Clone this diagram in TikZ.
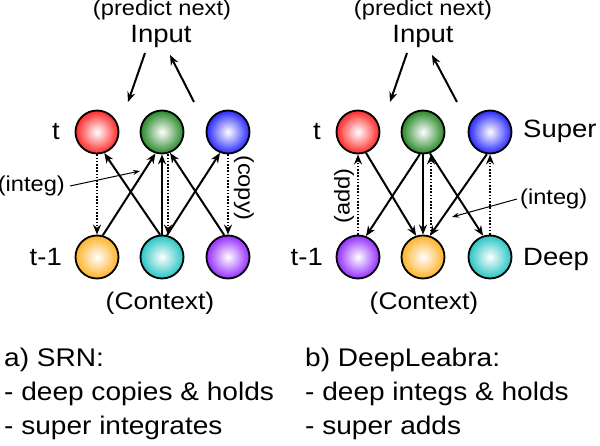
\documentclass[tikz,border=0pt]{standalone}
\usepackage{fontspec}
\setmainfont{Liberation Sans}[FakeStretch=1.1]
\usetikzlibrary{arrows.meta}
\newcommand{\ballsize}{43pt}
\definecolor{ballred}{RGB}{255,40,40}
\definecolor{ballgreen}{RGB}{40,135,40}
\definecolor{ballblue}{RGB}{40,40,255}
\definecolor{ballorange}{RGB}{255,178,40}
\definecolor{ballcyan}{RGB}{40,196,196}
\definecolor{ballpurple}{RGB}{148,45,255}

\begin{document}
\begin{tikzpicture}[x=1pt,y=1pt,
    unit/.style={draw, circle, line width=1.8pt, minimum size=\ballsize, inner sep=0pt,
      inner color=white, outer color=#1},
    wire/.style={line width=2pt, -{Stealth[length=10pt,width=8pt]}},
    copyline/.style={line width=1.9pt, dash pattern=on 1.6pt off 1.6pt,
      -{Stealth[length=10pt,width=8pt]}},
    pointer/.style={line width=1pt, -{Stealth[length=7pt,width=5pt]}},
    smalllbl/.style={font=\fontsize{21.5}{25}\selectfont, inner sep=0pt},
    biglbl/.style={font=\fontsize{25}{30}\selectfont, inner sep=0pt},
    capt/.style={font=\fontsize{25.5}{34}\selectfont, inner sep=0pt, align=left}]

      \useasboundingbox (0,0) rectangle (600,445);

          %%  a) SRN  %%
      \foreach \n/\x/\c in {R/97/ballred, G/162/ballgreen, B/228/ballblue}
      { \node (a\n) at (\x,313) [unit=\c] {};}
      \foreach \n/\x/\c in {Y/97/ballorange, C/162/ballcyan, P/228/ballpurple}
      { \node (a\n) at (\x,188) [unit=\c] {};}

      \node (aPred) at (162,429) [smalllbl, anchor=base] {(predict next)};
      \node (aIn) at (161,402) [biglbl, anchor=base] {Input};
      \coordinate (aDn1) at (145,392); \coordinate (aDn2) at (128,343);
      \coordinate (aUp1) at (194,343); \coordinate (aUp2) at (170,390);
      \draw[wire] (aDn1) -- (aDn2);
      \draw[wire] (aUp1) -- (aUp2);

      \draw[wire] (aY.75) -- (aG.253);
      \draw[wire] (aC.95) -- (aR.289);
      \draw[wire] (aC.90) -- (aG.270);
      \draw[wire] (aC.77) -- (aB.249);
      \draw[wire] (aP.100) -- (aG.291);
      \draw[copyline] (aR.270) -- (aY.90);
      \draw[copyline] ([xshift=6pt]aG.south) -- ([xshift=6pt]aC.north);
      \draw[copyline] (aB.270) -- (aP.90);

      \node (aT) at (60,313) [biglbl, anchor=east] {t};
      \node (aT1) at (62,188) [biglbl, anchor=east] {t-1};
      \node (aCopy) at (244,257) [smalllbl, rotate=-90] {(copy)};
      \node (aInteg) at (65,259) [smalllbl, anchor=east] {(integ)};
      \coordinate (aIntegTo) at (140,274);
      \draw[pointer] ([xshift=5pt]aInteg.east) -- (aIntegTo);
      \node (aCtx) at (160,135.5) [biglbl, font=\fontsize{24}{28}\selectfont, anchor=base] {(Context)};

          %%  b) DeepLeabra  %%
      \foreach \n/\x/\c in {R/358/ballred, G/423/ballgreen, B/490/ballblue}
      { \node (b\n) at (\x,313) [unit=\c] {};}
      \foreach \n/\x/\c in {P/358/ballpurple, Y/423/ballorange, C/490/ballcyan}
      { \node (b\n) at (\x,188) [unit=\c] {};}

      \node (bPred) at (423,429) [smalllbl, anchor=base] {(predict next)};
      \node (bIn) at (423,402) [biglbl, anchor=base] {Input};
      \coordinate (bDn1) at (407,392); \coordinate (bDn2) at (390,343);
      \coordinate (bUp1) at (457,343); \coordinate (bUp2) at (432,390);
      \draw[wire] (bDn1) -- (bDn2);
      \draw[wire] (bUp1) -- (bUp2);

      \draw[wire] (bR.291) -- (bY.108);
      \draw[wire] (bG.262) -- (bP.69);
      \draw[wire] (bG.270) -- (bY.90);
      \draw[wire] (bG.288) -- (bC.108);
      \draw[wire] (bB.262) -- (bY.72);
      \draw[copyline] (bP.90) -- (bR.270);
      \draw[copyline] ([xshift=8pt]bY.north) -- ([xshift=8pt]bG.south);
      \draw[copyline] (bC.90) -- (bB.270);

      \node (bT) at (321,313) [biglbl, anchor=east] {t};
      \node (bT1) at (323,188) [biglbl, anchor=east] {t-1};
      \node (bSuper) at (523,307) [biglbl, anchor=base west] {Super};
      \node (bDeep) at (523,179) [biglbl, anchor=base west] {Deep};
      \node (bAdd) at (344,249) [smalllbl, rotate=90] {(add)};
      \node (bInteg) at (520,246) [smalllbl, anchor=west] {(integ)};
      \coordinate (bIntegTo) at (452,228);
      \draw[pointer] ([xshift=-3pt]bInteg.west) -- (bIntegTo);
      \node (bCtx) at (424,135.5) [biglbl, font=\fontsize{24}{28}\selectfont, anchor=base] {(Context)};

          %%  captions (base = last line)  %%
      \node (aSum) at (4,11) [capt, anchor=base west] {a) SRN:\\- deep copies \& holds\\- super integrates};
      \node (bSum) at (305,11) [capt, anchor=base west] {b) DeepLeabra:\\- deep integs \& holds\\- super adds};

\end{tikzpicture}
\end{document}
